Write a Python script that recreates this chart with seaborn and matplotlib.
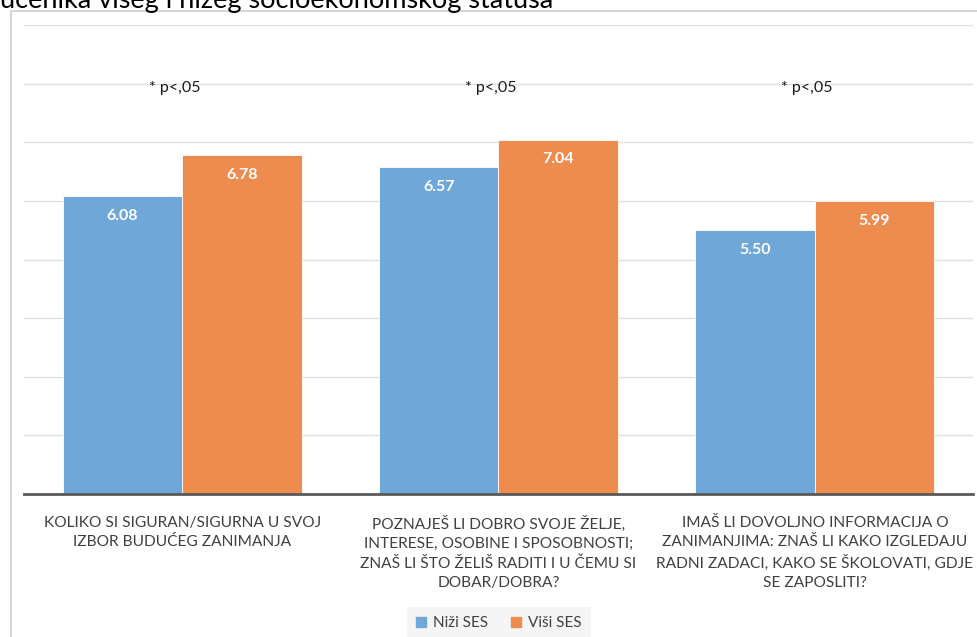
import matplotlib
matplotlib.use("Agg")
import matplotlib.pyplot as plt
import pandas as pd
import seaborn as sns
from matplotlib.lines import Line2D

CATEGORIES = [
    "KOLIKO SI SIGURAN/SIGURNA U SVOJ\nIZBOR BUDUĆEG ZANIMANJA",
    "POZNAJEŠ LI DOBRO SVOJE ŽELJE,\nINTERESE, OSOBINE I SPOSOBNOSTI;\nZNAŠ LI ŠTO ŽELIŠ RADITI I U ČEMU SI\nDOBAR/DOBRA?",
    "IMAŠ LI DOVOLJNO INFORMACIJA O\nZANIMANJIMA: ZNAŠ LI KAKO IZGLEDAJU\nRADNI ZADACI, KAKO SE ŠKOLOVATI, GDJE\nSE ZAPOSLITI?",
]
GROUPS = ["Niži SES", "Viši SES"]
NIZI_SES = [6.08, 6.57, 5.50]
VISI_SES = [6.78, 7.04, 5.99]
SIG_NOTES = ["* p<,05", "* p<,05", "* p<,05"]
TITLE = "učenika višeg i nižeg socioekonomskog statusa"

COLORS = {"Niži SES": "#6fa7d9", "Viši SES": "#ed8c4e"}
FONT = ["Lato", "DejaVu Sans"]

df = pd.DataFrame({
    "kategorija": CATEGORIES * 2,
    "grupa": [GROUPS[0]] * 3 + [GROUPS[1]] * 3,
    "vrijednost": NIZI_SES + VISI_SES,
})

sns.set_theme(style="white")
plt.rcParams["font.family"] = FONT

fig = plt.figure(figsize=(9.78, 6.37), dpi=100)
W, H = 978, 637
ax = fig.add_axes([24 / W, 1 - 494 / H, 949 / W, 469 / H])

sns.barplot(data=df, x="kategorija", y="vrijednost", hue="grupa", order=CATEGORIES,
            hue_order=GROUPS, palette=COLORS, width=0.755, gap=0, saturation=1,
            edgecolor="#ffffff", linewidth=0.6, ax=ax, zorder=2)
# bars must start at the axis floor of 1
for cont in ax.containers:
    for p in cont:
        p.set_y(1)
        p.set_height(p.get_height() - 1)
    labels = [f"{p.get_height() + 1:.2f}" for p in cont]
    ax.bar_label(cont, labels=labels, padding=-19, color="white", fontweight="bold",
                 fontsize=11.5, family=FONT)

ax.set_ylim(1, 9)
ax.set_xlim(-0.5, 2.5)
ax.set_yticks(range(1, 10))
ax.set_yticklabels([])
ax.yaxis.grid(True, color="#dedede", linewidth=0.9, zorder=0)
ax.set_axisbelow(True)
for s in ["left", "right", "top"]:
    ax.spines[s].set_visible(False)
ax.spines["bottom"].set_color("#595959")
ax.spines["bottom"].set_linewidth(2)
ax.set_xlabel("")
ax.set_ylabel("")
ax.tick_params(axis="x", length=0, pad=16, labelsize=11.2, labelcolor="#404040")
ax.tick_params(axis="y", length=0)
for lbl in ax.get_xticklabels():
    lbl.set_linespacing(1.45)

for i, note in enumerate(SIG_NOTES):
    ax.text(i - 0.025, 7.93, note, ha="center", va="center", fontsize=11.5, color="#1a1a1a")

handles = [plt.Rectangle((0, 0), 1, 1, color=COLORS[g]) for g in GROUPS]
leg = ax.legend(handles, GROUPS, loc="center", bbox_to_anchor=(499 / W, 1 - 623 / H),
                bbox_transform=fig.transFigure, ncol=2, frameon=True, fontsize=11,
                handlelength=0.65, handleheight=0.65, handletextpad=0.45, columnspacing=1.5,
                borderpad=0.6, borderaxespad=0, fancybox=False)
leg.get_frame().set_facecolor("#f3f3f3")
leg.get_frame().set_edgecolor("none")
for t in leg.get_texts():
    t.set_color("#404040")

# chart frame edges (left and top)
fig.add_artist(Line2D([10.5 / W, 10.5 / W], [0, 1 - 10.5 / H], color="#d0d0d0", lw=1.2))
fig.add_artist(Line2D([10.5 / W, 1], [1 - 10.5 / H, 1 - 10.5 / H], color="#d0d0d0", lw=1.2))

fig.text(0, 1 - 8 / H, TITLE, ha="left", va="baseline", fontsize=19.5, color="#000000")

fig.savefig("out.png", dpi=100)
